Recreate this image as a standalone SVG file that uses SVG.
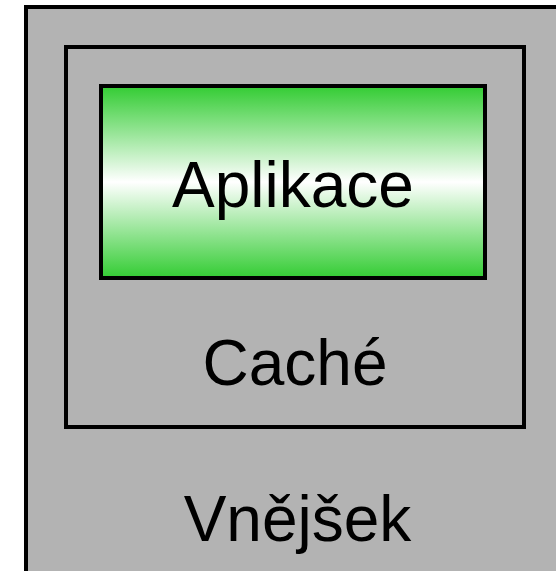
<svg xmlns="http://www.w3.org/2000/svg" width="556" height="571" viewBox="0 0 556 571">
  <defs>
    <linearGradient id="g" x1="0" y1="0" x2="0" y2="1">
      <stop offset="0" stop-color="#33cc33"/>
      <stop offset="0.5" stop-color="#ffffff"/>
      <stop offset="1" stop-color="#33cc33"/>
    </linearGradient>
  </defs>
  <style>
    .box { stroke: #000; stroke-width: 4; }
    .lbl { font-family: "Liberation Sans", Arial, sans-serif; font-size: 64px; fill: #000; text-anchor: middle; }
  </style>
  <rect width="556" height="571" fill="#ffffff"/>
  <g id="vnejsek">
    <rect class="box" x="26" y="7" width="560" height="600" fill="#b3b3b3"/>
    <text class="lbl" x="297.5" y="541">Vnějšek</text>
  </g>
  <g id="cache">
    <rect class="box" x="66" y="47" width="458" height="380" fill="none"/>
    <text class="lbl" x="295" y="385">Caché</text>
  </g>
  <g id="aplikace">
    <rect class="box" x="101" y="86" width="384" height="192" fill="url(#g)"/>
    <text class="lbl" x="293" y="207">Aplikace</text>
  </g>
  <g id="connectors"/>
</svg>
